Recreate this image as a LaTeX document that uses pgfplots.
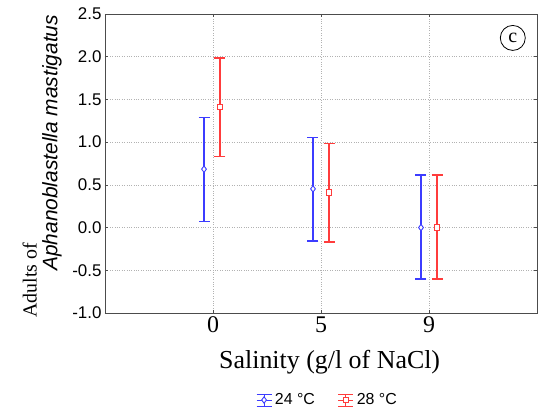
\documentclass[border=0pt]{standalone}
\usepackage{fontspec}
\setmainfont{Liberation Serif}
\setsansfont{Liberation Sans}
\usepackage{pgfplots}
\pgfplotsset{compat=1.18}
\definecolor{cblue}{RGB}{60,60,255}
\definecolor{cred}{RGB}{255,60,60}
\begin{document}
\begin{tikzpicture}
\begin{axis}[
  scale only axis, width=432bp, height=299bp,
  xmin=-1, xmax=3, ymin=-1, ymax=2.5,
  clip=false,
  xtick={0,1,2}, xticklabels={0,5,9},
  ytick={-1,-0.5,0,0.5,1,1.5,2,2.5},
  /pgf/number format/assume math mode=true,
  yticklabel style={font=\sffamily\fontsize{17}{17}\selectfont, /pgf/number format/fixed, /pgf/number format/fixed zerofill, /pgf/number format/precision=1},
  xticklabel style={font=\fontsize{24}{24}\selectfont},
  grid=major,
  major grid style={dotted, black!30, line width=0.6pt},
  axis line style={black!70, line width=0.8pt},
  tick align=inside, major tick length=3bp, tick style={black!70, line width=0.6pt},
  xlabel={Salinity (g/l of NaCl)},
  xlabel style={font=\fontsize{26}{26}\selectfont, at={(axis description cs:0.52,-0.164)}, anchor=center},
  legend style={at={(axis description cs:0.515,-0.291)}, anchor=center, draw=none, fill=none,
    legend columns=2, font=\sffamily\fontsize{16}{16}\selectfont,
    /tikz/every odd column/.append style={column sep=1bp},
    /tikz/every even column/.append style={column sep=21bp}},
  legend image code/.code={
    \draw[#1, mark=none, line width=0.8pt] (7.5bp,-6bp) -- (7.5bp,6bp);
    \draw[#1, mark=none, line width=0.8pt] (0bp,6bp)--(15bp,6bp) (0bp,-6bp)--(15bp,-6bp) (0bp,0bp)--(15bp,0bp);
    \draw[#1] plot coordinates {(7.5bp,0bp)};
  },
]
% error bars
\addplot[forget plot, color=cblue, only marks, mark=none,
  error bars/.cd, y dir=both, y explicit,
  error bar style={line width=1.6bp, draw=cblue},
  error mark options={rotate=90, draw=cblue, mark size=5.5bp, line width=1.6bp}]
  coordinates {
  (-0.0833,0.684) += (0,0.604) -= (0,0.614)
  (0.9259,0.453) += (0,0.601) -= (0,0.613)
  (1.9259,0.0) += (0,0.612) -= (0,0.600)
  };
\addplot[forget plot, color=cred, only marks, mark=none,
  error bars/.cd, y dir=both, y explicit,
  error bar style={line width=1.6bp, draw=cred},
  error mark options={rotate=90, draw=cred, mark size=5.5bp, line width=1.6bp}]
  coordinates {
  (0.0648,1.413) += (0,0.571) -= (0,0.581)
  (1.0741,0.414) += (0,0.570) -= (0,0.581)
  (2.0741,0.0) += (0,0.612) -= (0,0.600)
  };
% means
\addplot[cblue, only marks, mark=diamond*, mark size=3.2bp, mark options={fill=white, line width=0.9pt}]
  coordinates {(-0.0833,0.684) (0.9259,0.453) (1.9259,0.0)};
\addlegendentry{24 °C}
\addplot[cred, only marks, mark=square*, mark size=2.8bp, mark options={fill=white, line width=0.9pt}]
  coordinates {(0.0648,1.413) (1.0741,0.414) (2.0741,0.0)};
\addlegendentry{28 °C}
\node[draw, circle, inner sep=0pt, minimum size=25bp, line width=0.8pt, font=\fontsize{20}{20}\selectfont] at (rel axis cs:0.944,0.920) {c};
\node[rotate=90, font=\fontsize{20}{20}\selectfont] at (axis description cs:-0.174,0.11) {Adults of};
\node[rotate=90, font=\sffamily\itshape\fontsize{21}{21}\selectfont] at (axis description cs:-0.123,0.569) {Aphanoblastella mastigatus};
\coordinate (bl) at (rel axis cs:0,0);
\coordinate (tr) at (rel axis cs:1,1);
\end{axis}
\pgfresetboundingbox
\path[use as bounding box] ([shift={(-105bp,-98bp)}]bl) rectangle ([shift={(9bp,14bp)}]tr);
\end{tikzpicture}
\end{document}
